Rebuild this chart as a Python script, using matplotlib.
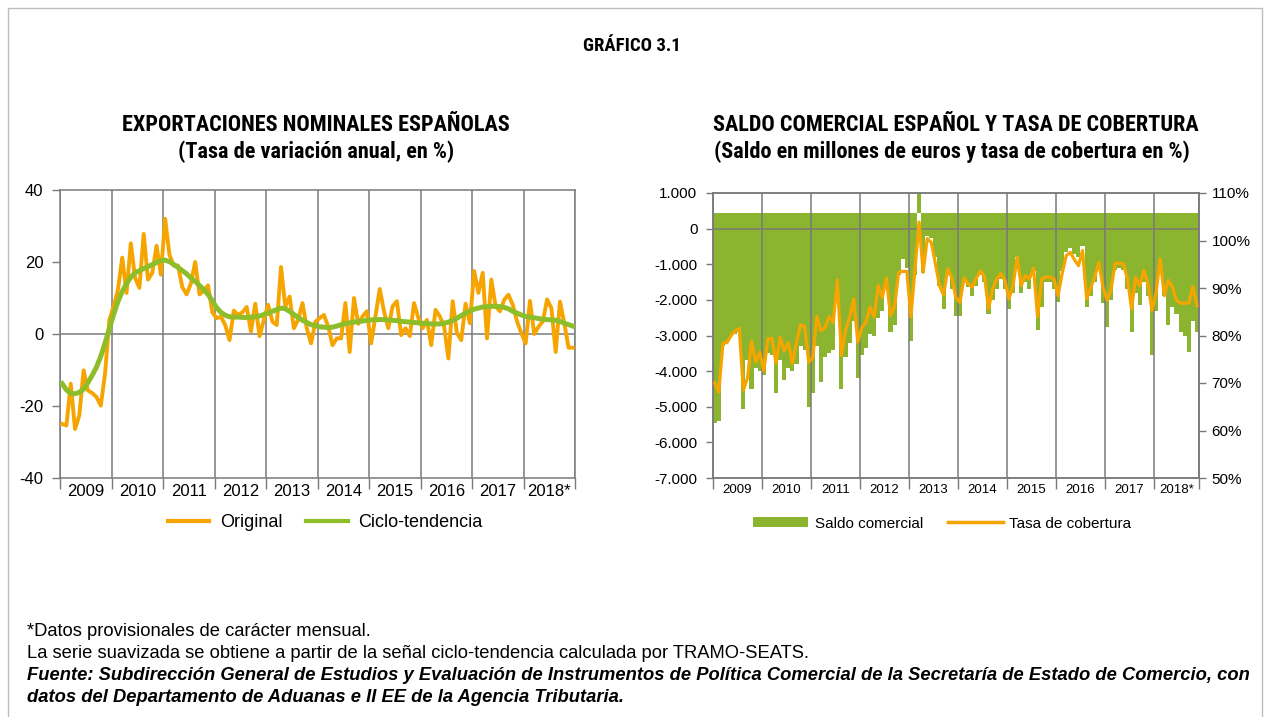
import matplotlib
matplotlib.use("Agg")
import matplotlib.pyplot as plt
from matplotlib import font_manager
from matplotlib.lines import Line2D
from matplotlib.patches import Patch, Rectangle

# ---------------- data ----------------
year_labels = ["2009", "2010", "2011", "2012", "2013", "2014", "2015", "2016", "2017", "2018*"]

# Exportaciones nominales: tasa de variacion anual (%), monthly Jan-2009 .. Dec-2018
export_original = [
    -25.0, -25.4, -13.8, -26.4, -22.6, -10.1, -15.7, -16.4, -17.5, -19.9, -11.0, 3.9,
    7.7, 12.3, 21.2, 11.4, 25.2, 15.6, 12.8, 27.8, 15.1, 17.0, 24.5, 16.5,
    32.0, 22.0, 19.0, 19.0, 13.0, 11.0, 14.0, 20.0, 11.0, 12.0, 13.5, 6.0,
    4.4, 4.8, 2.5, -1.7, 6.5, 5.3, 6.0, 7.5, 0.7, 8.4, -0.6, 4.0,
    8.1, 3.4, 2.5, 18.6, 7.6, 10.4, 1.6, 4.0, 8.6, 1.6, -2.6, 3.4,
    4.4, 5.3, 2.0, -3.1, -1.2, -1.2, 8.6, -5.0, 10.0, 2.8, 4.9, 6.3,
    -2.6, 4.9, 12.5, 6.3, 1.6, 7.7, 9.1, -0.3, 1.6, -0.6, 8.6, 4.4,
    1.6, 3.9, -3.1, 6.7, 4.9, 2.1, -6.8, 9.1, 0.2, -1.7, 8.4, 3.0,
    17.5, 11.4, 17.0, -1.2, 15.1, 7.7, 6.3, 9.5, 10.9, 8.1, 3.5, 0.2,
    -2.6, 9.2, 0.0, 2.0, 3.5, 9.6, 7.2, -5.0, 9.0, 3.0, -3.8, -3.8,
]
export_trend = [
    -13.8, -15.5, -16.5, -16.6, -16.2, -15.3, -13.5, -11.5, -9.2, -6.2, -2.5, 1.5,
    5.5, 9.0, 11.8, 14.0, 15.8, 17.0, 17.6, 18.2, 18.7, 19.3, 19.9, 20.4,
    20.5, 20.1, 19.3, 18.5, 17.6, 16.7, 15.6, 14.6, 13.5, 12.3, 11.0, 9.2,
    7.3, 6.0, 5.2, 4.8, 4.7, 4.7, 4.6, 4.6, 4.7, 4.8, 5.0, 5.4,
    5.8, 6.3, 6.8, 7.2, 7.0, 6.3, 5.4, 4.6, 3.8, 3.2, 2.6, 2.3,
    2.0, 1.9, 1.8, 1.9, 2.2, 2.6, 2.9, 3.1, 3.3, 3.5, 3.6, 3.8,
    3.9, 4.0, 4.0, 4.0, 3.9, 3.8, 3.7, 3.5, 3.4, 3.3, 3.2, 3.1,
    3.0, 2.9, 2.8, 2.8, 2.8, 3.0, 3.3, 3.8, 4.4, 5.1, 5.8, 6.4,
    6.9, 7.2, 7.5, 7.6, 7.7, 7.7, 7.6, 7.4, 7.0, 6.3, 5.8, 5.3,
    4.9, 4.7, 4.5, 4.3, 4.1, 4.0, 3.9, 3.8, 3.5, 3.0, 2.6, 2.2,
]

# Saldo comercial (millones de euros), monthly Jan-2009 .. Nov-2018
saldo = [
    -5450, -5400, -3300, -3200, -3000, -2950, -2900, -5050, -3700, -4500, -3900, -4000,
    -4100, -3500, -3550, -4600, -3700, -4250, -3900, -4000, -3800, -3300, -3400, -5000,
    -4600, -3300, -4300, -3600, -3500, -3400, -2000, -4500, -3600, -3200, -2600, -4200,
    -3550, -3350, -2950, -3000, -2500, -2300, -1700, -2900, -2700, -1300, -850, -1100,
    -3150, -1300, 1000, -1250, -200, -250, -800, -1600, -2250, -1300, -1700, -2450,
    -2450, -1500, -1650, -1900, -1600, -1300, -1500, -2400, -2000, -1700, -1400, -1700,
    -2250, -1800, -800, -1800, -1500, -1700, -1200, -2850, -2200, -1500, -1500, -1700,
    -2050, -1200, -650, -550, -700, -800, -500, -2200, -1900, -1500, -1100, -2100,
    -2750, -2000, -1150, -1100, -1150, -1700, -2900, -1800, -2150, -1500, -1900, -3550,
    -2300, -1100, -1900, -2700, -2200, -2400, -2900, -3000, -3450, -2600, -2900,
]
# Tasa de cobertura (%), monthly Jan-2009 .. Nov-2018
cobertura = [
    70.0, 68.1, 78.4, 78.5, 80.0, 81.0, 81.5, 68.5, 71.0, 78.8, 74.4, 76.5,
    72.6, 79.3, 79.4, 74.1, 79.6, 76.8, 78.5, 74.1, 78.5, 82.3, 81.9, 74.4,
    75.4, 84.0, 81.0, 81.7, 84.0, 82.8, 91.7, 75.8, 81.0, 83.9, 87.7, 78.6,
    81.7, 82.8, 86.0, 83.9, 90.5, 88.0, 92.1, 84.2, 86.0, 93.3, 93.5, 93.5,
    83.9, 94.0, 103.9, 93.3, 100.4, 99.6, 95.1, 90.5, 88.5, 94.0, 92.2, 88.0,
    87.0, 92.1, 90.9, 90.2, 92.0, 93.6, 92.5, 85.6, 89.8, 91.9, 93.0, 91.6,
    87.7, 90.5, 96.5, 90.5, 92.6, 91.9, 94.2, 83.9, 91.9, 92.3, 92.3, 91.9,
    88.4, 93.0, 96.8, 97.5, 96.0, 94.7, 97.9, 87.7, 90.0, 92.5, 95.4, 90.2,
    87.4, 89.8, 95.2, 95.2, 95.1, 91.9, 85.6, 92.2, 90.5, 93.7, 90.9, 85.3,
    89.0, 96.1, 88.4, 91.6, 90.2, 87.4, 86.8, 86.8, 86.8, 90.3, 86.3,
]

# ---------------- style ----------------
W, H = 1264, 717
ORANGE = "#F6A500"
GREEN_L = "#8DBE2A"
GREEN_R = "#8BB52E"
GRID = "#7A7A7A"


def pick(names):
    for n in names:
        try:
            font_manager.findfont(font_manager.FontProperties(family=n), fallback_to_default=False)
            return n
        except Exception:
            pass
    return "DejaVu Sans"


SANS = pick(["Liberation Sans", "Arimo", "DejaVu Sans"])
NARROW = pick(["Liberation Sans Narrow", "Roboto Condensed", "Liberation Sans"])
plt.rcParams["font.family"] = [SANS, "DejaVu Sans"]
TITLE_FAM = [NARROW, "DejaVu Sans"]

fig = plt.figure(figsize=(W / 100, H / 100), dpi=100)
fig.patches.append(Rectangle((8 / W, -0.05), (1262 - 8) / W, 1 - 8 / H + 0.05,
                             transform=fig.transFigure, fill=False,
                             edgecolor="#BDBDBD", lw=1.0))


def fx(px):
    return px / W


def fy(py):
    return 1 - py / H


def style_axes(ax, n, labelsize):
    bounds = [-0.5 + 12 * k for k in range(10)] + [n - 0.5]
    centers = [(bounds[i] + bounds[i + 1]) / 2 for i in range(10)]
    ax.set_xlim(-0.5, n - 0.5)
    ax.set_xticks(bounds)
    ax.set_xticklabels([])
    ax.set_xticks(centers, minor=True)
    ax.set_xticklabels(year_labels, minor=True)
    ax.tick_params(axis="x", which="major", length=8, color=GRID, width=1)
    ax.tick_params(axis="x", which="minor", length=0, labelsize=labelsize, pad=4)
    ax.grid(True, axis="x", which="major", color=GRID, lw=1.1)
    ax.set_axisbelow(False)
    for s in ax.spines.values():
        s.set_color(GRID)
        s.set_linewidth(1.1)


# ---------------- left chart ----------------
ax1 = fig.add_axes([fx(60), fy(478), fx(515), 288 / H])
m1 = list(range(len(export_original)))
style_axes(ax1, len(export_original), 12)
ax1.set_ylim(-40, 40)
ax1.set_yticks([-40, -20, 0, 20, 40])
ax1.set_yticklabels(["-40", "-20", "0", "20", "40"])
ax1.tick_params(axis="y", length=6, color=GRID, width=1, labelsize=12, pad=6)
ax1.axhline(0, color=GRID, lw=1.1, zorder=2)
ax1.plot(m1, export_original, color=ORANGE, lw=2.8, zorder=3)
ax1.plot(m1, export_trend, color=GREEN_L, lw=3.6, zorder=4)

h1 = [Line2D([], [], color=ORANGE, lw=3), Line2D([], [], color=GREEN_L, lw=3)]
ax1.legend(h1, ["Original", "Ciclo-tendencia"], loc="center", bbox_to_anchor=(0.515, -0.156),
           ncol=2, frameon=False, fontsize=13, handlelength=2.3, columnspacing=1.3,
           handletextpad=0.6)

fig.text(fx(316), fy(125), "EXPORTACIONES NOMINALES ESPAÑOLAS", ha="center", va="center",
         fontsize=16, weight="bold", family=TITLE_FAM)
fig.text(fx(316), fy(152), "(Tasa de variación anual, en %)", ha="center", va="center",
         fontsize=16, weight="bold", family=TITLE_FAM)

# ---------------- right chart ----------------
ax2 = fig.add_axes([fx(712.7), fy(478), fx(486.3), 285 / H])
m2 = list(range(len(saldo)))
style_axes(ax2, len(saldo), 9.5)
ax2.set_ylim(-7000, 1000)
ax2.set_yticks(list(range(-7000, 1001, 1000)))
ax2.set_yticklabels(["-7.000", "-6.000", "-5.000", "-4.000", "-3.000", "-2.000",
                     "-1.000", "0", "1.000"])
ax2.tick_params(axis="y", length=5, color=GRID, width=1, labelsize=11, pad=6)
band_top = 450
ax2.bar(m2, [band_top - v for v in saldo], bottom=saldo, width=1.0, color=GREEN_R,
        linewidth=0, zorder=1)
ax2.axhline(0, color=GRID, lw=1.1, zorder=2)

ax3 = ax2.twinx()
ax3.set_ylim(50, 110)
ax3.set_yticks([50, 60, 70, 80, 90, 100, 110])
ax3.set_yticklabels(["50%", "60%", "70%", "80%", "90%", "100%", "110%"])
ax3.tick_params(axis="y", length=5, color=GRID, width=1, labelsize=11, pad=4)
for s in ax3.spines.values():
    s.set_color(GRID)
    s.set_linewidth(1.1)
ax3.plot(m2, cobertura, color=ORANGE, lw=2.3, zorder=5)

h2 = [Patch(facecolor=GREEN_R, edgecolor="none"), Line2D([], [], color=ORANGE, lw=2.5)]
ax3.legend(h2, ["Saldo comercial", "Tasa de cobertura"], loc="center",
           bbox_to_anchor=(0.472, -0.16), ncol=2, frameon=False, fontsize=11,
           handlelength=3.6, handleheight=0.6, columnspacing=1.6, handletextpad=0.45)

fig.text(fx(956), fy(125), "SALDO COMERCIAL ESPAÑOL Y TASA DE COBERTURA", ha="center",
         va="center", fontsize=16, weight="bold", family=TITLE_FAM)
fig.text(fx(952), fy(152), "(Saldo en millones de euros y tasa de cobertura en %)",
         ha="center", va="center", fontsize=16, weight="bold", family=TITLE_FAM)

# ---------------- headers & notes ----------------
fig.text(fx(632), fy(46), "GRÁFICO 3.1", ha="center", va="center", fontsize=13.5,
         weight="bold", family=TITLE_FAM)

NOTE = 13.25
fig.text(fx(27), fy(631), "*Datos provisionales de carácter mensual.", ha="left",
         va="center", fontsize=NOTE)
fig.text(fx(27), fy(654), "La serie suavizada se obtiene a partir de la señal ciclo-tendencia "
         "calculada por TRAMO-SEATS.", ha="left", va="center", fontsize=NOTE)
fig.text(fx(27), fy(676), "Fuente: Subdirección General de Estudios y Evaluación de Instrumentos "
         "de Política Comercial de la Secretaría de Estado de Comercio, con", ha="left",
         va="center", fontsize=NOTE, weight="bold", style="italic")
fig.text(fx(27), fy(697), "datos del Departamento de Aduanas e II EE de la Agencia Tributaria.",
         ha="left", va="center", fontsize=NOTE, weight="bold", style="italic")

fig.savefig("out.png", dpi=100)
